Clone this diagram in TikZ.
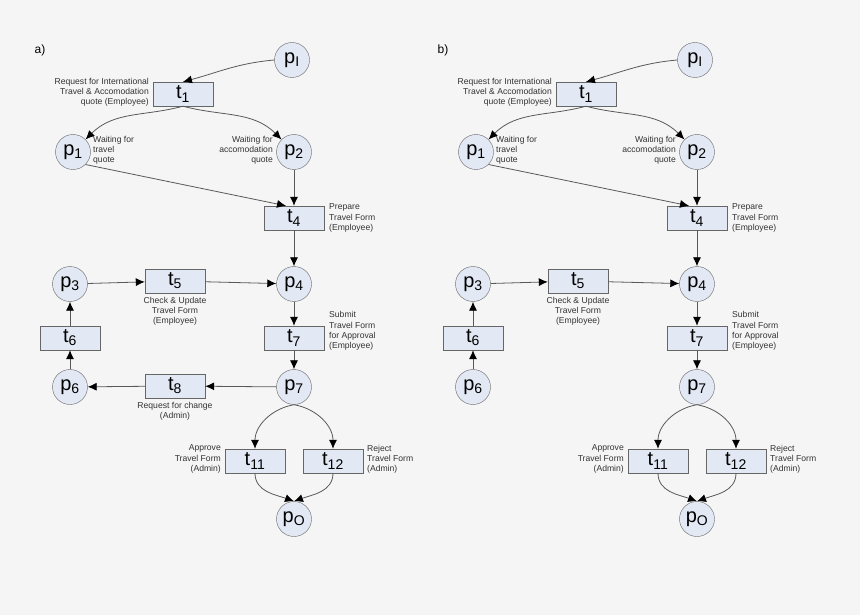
\documentclass[tikz,border=0pt]{standalone}
\usepackage{fontspec}
\setmainfont{Liberation Sans}
\usetikzlibrary{arrows.meta}
\definecolor{nf}{RGB}{226,232,244}
\begin{document}
\begin{tikzpicture}[x=1pt,y=-1pt,
  pl/.style={circle,draw=black!60,fill=nf,minimum size=35pt,inner sep=0pt,font=\fontsize{20}{20}\selectfont},
  tr/.style={rectangle,draw=black!60,fill=nf,minimum width=60pt,minimum height=24pt,inner sep=0pt,font=\fontsize{20}{20}\selectfont},
  lb/.style={font=\fontsize{8.6}{10.2}\selectfont,text=black!80,inner sep=1pt},
  ar/.style={draw=black!65,line width=0.8pt,-{Latex[length=9pt,width=8pt,black]}}]
\fill[black!4] (0,0) rectangle (860,615);
\useasboundingbox (0,0) rectangle (860,615);
\foreach \off/\pan in {0/a,403/b}{
\begin{scope}[xshift=\off pt]
\node[font=\fontsize{12}{12}\selectfont] at (40,50) {\pan)};
\node[pl] (pI) at (292,60) {p\textsubscript{I}};
\node[tr] (t1) at (183,94) {t\textsubscript{1}};
\node[pl] (p1) at (73,152) {p\textsubscript{1}};
\node[pl] (p2) at (294,152) {p\textsubscript{2}};
\node[tr] (t4) at (294,218) {t\textsubscript{4}};
\node[pl] (p4) at (294,284) {p\textsubscript{4}};
\node[pl] (p3) at (70,284) {p\textsubscript{3}};
\node[tr] (t5) at (175,281) {t\textsubscript{5}};
\node[tr] (t6) at (70,338) {t\textsubscript{6}};
\node[tr] (t7) at (294,338) {t\textsubscript{7}};
\node[pl] (p7) at (294,387) {p\textsubscript{7}};
\node[pl] (p6) at (70,387) {p\textsubscript{6}};
\node[tr] (t11) at (255,461) {t\textsubscript{11}};
\node[tr] (t12) at (333,461) {t\textsubscript{12}};
\node[pl] (pO) at (294,519) {p\textsubscript{O}};
\node[lb,align=right,anchor=east] at (150,92) {Request for International\\Travel \& Accomodation\\quote (Employee)};
\node[lb,align=left,anchor=west] at (92,150) {Waiting for\\travel\\quote};
\node[lb,align=right,anchor=east] at (274,150) {Waiting for\\accomodation\\quote};
\node[lb,align=left,anchor=west] at (328,218) {Prepare\\Travel Form\\(Employee)};
\node[lb,align=center,anchor=north] at (175,296) {Check \& Update\\Travel Form\\(Employee)};
\node[lb,align=left,anchor=west] at (328,331) {Submit\\Travel Form\\for Approval\\(Employee)};
\node[lb,align=right,anchor=east] at (222,459) {Approve\\Travel Form\\(Admin)};
\node[lb,align=left,anchor=west] at (366,459) {Reject\\Travel Form\\(Admin)};
\draw[ar] (pI.west) to[out=185,in=15] (t1.north);
\draw[ar] (t1.south) to[out=195,in=45] (p1.north east);
\draw[ar] (t1.south) to[out=-15,in=135] (p2.north west);
\draw[ar] (p1.south east) -- ([xshift=-8pt]t4.north);
\draw[ar] (p2) -- (t4);
\draw[ar] (t4) -- (p4);
\draw[ar] (p3) -- (t5);
\draw[ar] (t5) -- (p4);
\draw[ar] (p4) -- (t7);
\draw[ar] (t7) -- (p7);
\draw[ar] (p6) -- (t6);
\draw[ar] (t6) -- (p3);
\draw[ar] (p7.south) to[out=190,in=90] (t11.north);
\draw[ar] (p7.south) to[out=-10,in=90] (t12.north);
\draw[ar] (t11.south) to[out=-90,in=160] (pO.north);
\draw[ar] (t12.south) to[out=-90,in=20] (pO.north);
\ifnum\off=0
\node[tr] (t8) at (175,386) {t\textsubscript{8}};
\node[lb,align=center,anchor=north] at (175,401) {Request for change\\(Admin)};
\draw[ar] (p7) -- (t8);
\draw[ar] (t8) -- (p6);
\fi
\end{scope}}
\end{tikzpicture}
\end{document}
